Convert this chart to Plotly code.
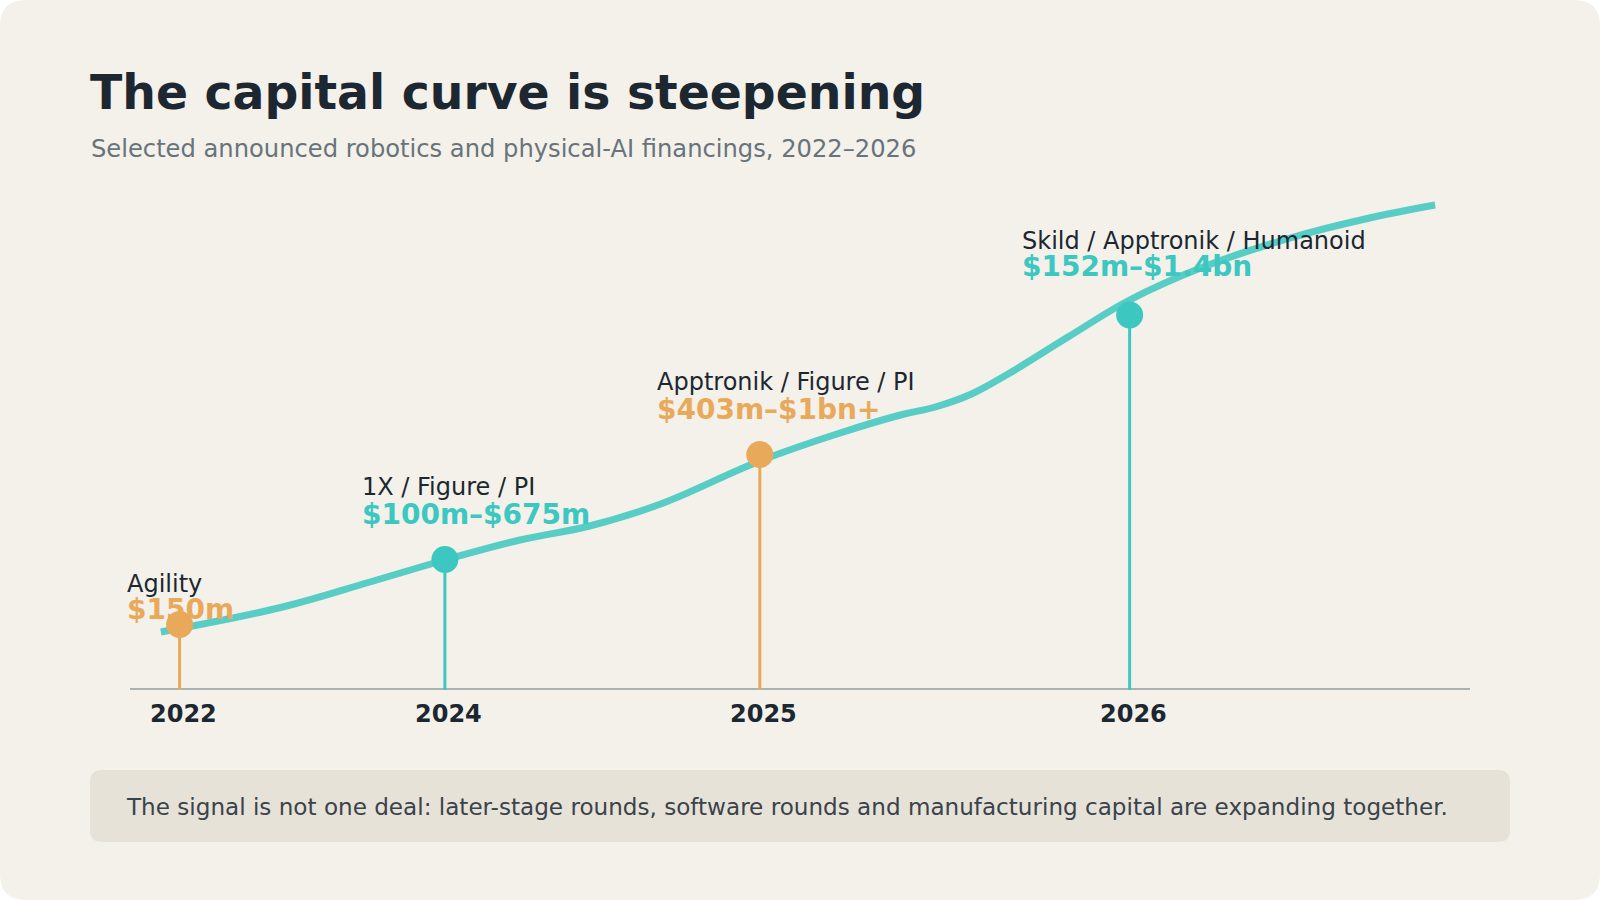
import plotly.graph_objects as go

# ---------------- data ----------------
years = ["2022", "2024", "2025", "2026"]
deal_names = ["Agility", "1X / Figure / PI", "Apptronik / Figure / PI", "Skild / Apptronik / Humanoid"]
deal_amounts = ["$150m", "$100m–$675m", "$403m–$1bn+", "$152m–$1.4bn"]
# timeline position (0-100) and capital index (0-100) of each milestone
event_x = [3.7, 23.5, 47.0, 74.6]
event_y = [13.1, 26.1, 47.1, 75.0]
event_kind = ["orange", "teal", "orange", "teal"]

# smooth capital curve (timeline position, capital index)
curve_x = [2.3, 11.4, 17.9, 23.5, 29.1, 34.3, 39.6, 47.0, 52.985, 57.5, 60.1,
           62.8, 65.4, 70.0, 74.6, 79.9, 86.6, 92.5, 97.4]
curve_y = [11.6, 16.6, 21.6, 26.0, 30.0, 32.8, 37.2, 45.8, 51.4, 55.0, 56.6,
           59.2, 63.0, 70.6, 78.0, 84.4, 90.4, 94.4, 97.0]

title = "The capital curve is steepening"
subtitle = "Selected announced robotics and physical-AI financings, 2022–2026"
footnote = "The signal is not one deal: later-stage rounds, software rounds and manufacturing capital are expanding together."

# ---------------- style ----------------
W, H = 1600, 900
FONT = "DejaVu Sans"
CARD = "#f3f1e9"
TEAL = "#3cc7c0"
ORANGE = "#e9a95b"
CURVE = "rgba(60,199,192,0.85)"
DARK = "#1c2731"
GREY = "#68737b"
AXIS = "#aab1b1"
palette = {"orange": ORANGE, "teal": TEAL}


def px(x):
    return x / W


def py(y):
    return 1 - y / H


fig = go.Figure()

# curve
fig.add_trace(go.Scatter(
    x=curve_x, y=curve_y, mode="lines",
    line=dict(color=CURVE, width=7, shape="spline", smoothing=1.1),
    hoverinfo="skip", showlegend=False, cliponaxis=False))

# stems
for xv, yv, k in zip(event_x, event_y, event_kind):
    fig.add_trace(go.Scatter(
        x=[xv, xv], y=[0, yv], mode="lines",
        line=dict(color=palette[k], width=3),
        hoverinfo="skip", showlegend=False, cliponaxis=False))

# dots
fig.add_trace(go.Scatter(
    x=event_x, y=event_y, mode="markers",
    marker=dict(size=27, color=[palette[k] for k in event_kind], line=dict(width=0)),
    hoverinfo="skip", showlegend=False, cliponaxis=False))


def rounded_rect(x0, y0, x1, y1, r):
    rx, ry = r / W, r / H
    X0, X1 = px(x0), px(x1)
    Y0, Y1 = py(y0), py(y1)  # Y0 top, Y1 bottom
    return (f"M {X0+rx},{Y0} L {X1-rx},{Y0} Q {X1},{Y0} {X1},{Y0-ry} "
            f"L {X1},{Y1+ry} Q {X1},{Y1} {X1-rx},{Y1} "
            f"L {X0+rx},{Y1} Q {X0},{Y1} {X0},{Y1+ry} "
            f"L {X0},{Y0-ry} Q {X0},{Y0} {X0+rx},{Y0} Z")


shapes = [
    dict(type="path", xref="paper", yref="paper", path=rounded_rect(0, 0, W, H, 26),
         fillcolor=CARD, line=dict(width=0), layer="below"),
    dict(type="path", xref="paper", yref="paper", path=rounded_rect(90, 770, 1510, 842, 12),
         fillcolor="#e6e2d7", line=dict(width=0), layer="below"),
    dict(type="line", xref="paper", yref="y", x0=px(130), x1=px(1470), y0=0, y1=0,
         line=dict(color=AXIS, width=4), layer="below"),
]

annotations = [
    dict(text=f"<b>{title}</b>", x=px(88), y=py(92.5), xanchor="left", yanchor="middle",
         font=dict(family=FONT, size=47.3, color=DARK)),
    dict(text=subtitle, x=px(89), y=py(148.5), xanchor="left", yanchor="middle",
         font=dict(family=FONT, size=24.2, color=GREY)),
    dict(text=footnote, x=px(124), y=py(806.5), xanchor="left", yanchor="middle",
         font=dict(family=FONT, size=23.1, color="#3a434b")),
]

label_left = [125, 360, 655, 1020]
label_mid = [584, 487, 382, 240.5]
amount_mid = [609.5, 514.5, 409, 267]
for i in range(len(deal_names)):
    annotations.append(dict(text=deal_names[i], x=px(label_left[i]), y=py(label_mid[i]),
                            xanchor="left", yanchor="middle",
                            font=dict(family=FONT, size=24, color=DARK)))
    annotations.append(dict(text=f"<b>{deal_amounts[i]}</b>", x=px(label_left[i]), y=py(amount_mid[i]),
                            xanchor="left", yanchor="middle",
                            font=dict(family=FONT, size=28, color=palette[event_kind[i]])))

for xv, yr in zip(event_x, years):
    annotations.append(dict(text=f"<b>{yr}</b>", x=xv, xref="x", xshift=4, y=py(714), yref="paper",
                            xanchor="center", yanchor="middle",
                            font=dict(family=FONT, size=24, color=DARK)))

for a in annotations:
    a.setdefault("xref", "paper")
    a.setdefault("yref", "paper")
    a["showarrow"] = False

fig.update_layout(
    width=W, height=H,
    margin=dict(l=0, r=0, t=0, b=0),
    paper_bgcolor="#ffffff", plot_bgcolor="rgba(0,0,0,0)",
    xaxis=dict(domain=[px(130), px(1470)], range=[0, 100], visible=False, fixedrange=True),
    yaxis=dict(domain=[py(690), py(190)], range=[0, 100], visible=False, fixedrange=True),
    shapes=shapes, annotations=annotations,
    font=dict(family=FONT),
    showlegend=False,
)

fig.write_html("out.html", config={"displayModeBar": False})
